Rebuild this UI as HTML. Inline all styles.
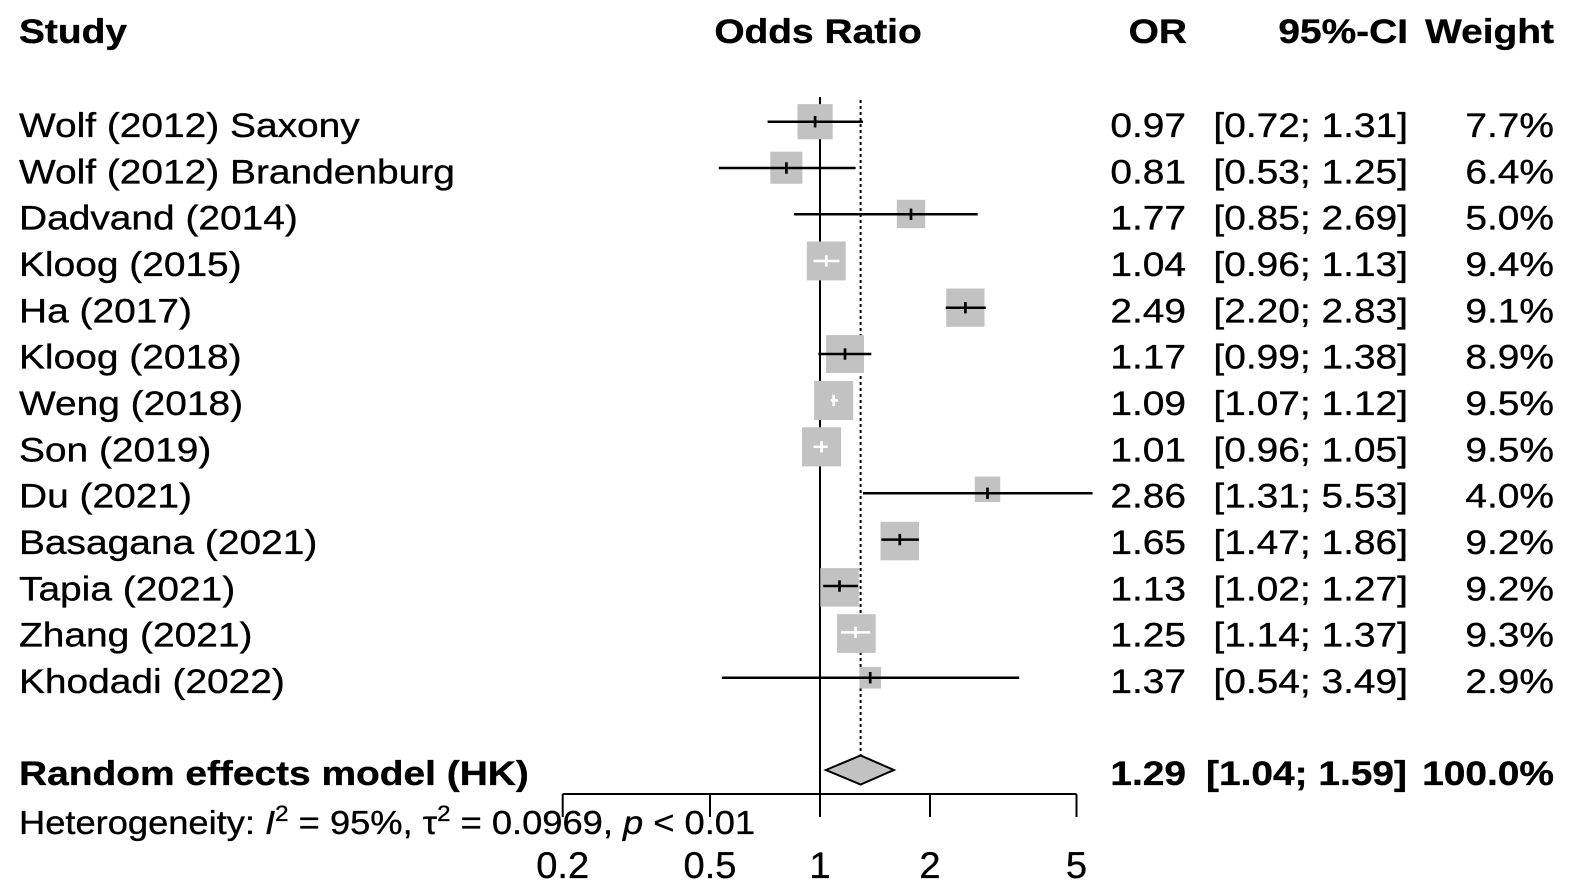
<!DOCTYPE html>
<html>
<head>
<meta charset="utf-8">
<style>
html,body{margin:0;padding:0;background:#fff;}
svg{display:block;}
text{font-family:"Liberation Sans",Arial,sans-serif;fill:#000;stroke:#000;stroke-width:0.35;}
.b{font-weight:bold;}
</style>
</head>
<body>
<svg width="1571" height="895" viewBox="0 0 1571 895" xmlns="http://www.w3.org/2000/svg">
<rect width="1571" height="895" fill="#fff"/>

<!-- Header -->
<g font-size="34" class="b">
<text class="b" transform="translate(19,43) scale(1.144,1)">Study</text>
<text class="b" transform="translate(818,43) scale(1.144,1)" text-anchor="middle">Odds Ratio</text>
<text class="b" transform="translate(1187,43) scale(1.144,1)" text-anchor="end">OR</text>
<text class="b" transform="translate(1408,43) scale(1.144,1)" text-anchor="end">95%-CI</text>
<text class="b" transform="translate(1554,43) scale(1.144,1)" text-anchor="end">Weight</text>
</g>

<!-- reference lines -->
<line x1="820" y1="97" x2="820" y2="794" stroke="#000" stroke-width="2"/>
<line x1="860.6" y1="100" x2="860.6" y2="756" stroke="#000" stroke-width="2" stroke-dasharray="3,3"/>

<!-- squares -->
<g fill="#c2c2c2">
<rect x="797.5" y="104.1" width="35.2" height="35.2"/>
<rect x="770.3" y="151.7" width="32.1" height="32.1"/>
<rect x="896.8" y="199.8" width="28.4" height="28.4"/>
<rect x="806.8" y="241.5" width="38.9" height="38.9"/>
<rect x="946.2" y="288.5" width="38.3" height="38.3"/>
<rect x="826.1" y="335.1" width="37.9" height="37.9"/>
<rect x="814.1" y="380.9" width="39.1" height="39.1"/>
<rect x="802.0" y="427.3" width="39.1" height="39.1"/>
<rect x="974.8" y="476.6" width="25.4" height="25.4"/>
<rect x="880.5" y="521.8" width="38.5" height="38.5"/>
<rect x="820.3" y="568.1" width="38.5" height="38.5"/>
<rect x="837.0" y="614.2" width="38.7" height="38.7"/>
<rect x="859.4" y="666.9" width="21.6" height="21.6"/>
</g>

<!-- CI lines and point ticks -->
<g stroke="#000" stroke-width="2.5">
<line x1="767.6" y1="121.7" x2="863" y2="121.7"/>
<line x1="815.1" y1="116" x2="815.1" y2="127.4" stroke-width="2.7"/>
<line x1="718.8" y1="168" x2="855.6" y2="168"/>
<line x1="786.4" y1="162.3" x2="786.4" y2="173.7" stroke-width="2.7"/>
<line x1="794.1" y1="214.3" x2="977.7" y2="214.3"/>
<line x1="911" y1="208.6" x2="911" y2="220" stroke-width="2.7"/>
<line x1="945.7" y1="307.7" x2="985.8" y2="307.7"/>
<line x1="965.4" y1="302" x2="965.4" y2="313.4" stroke-width="2.7"/>
<line x1="818.4" y1="354" x2="871.3" y2="354"/>
<line x1="845" y1="348.3" x2="845" y2="359.7" stroke-width="2.7"/>
<line x1="863" y1="493.3" x2="1092.6" y2="493.3"/>
<line x1="987.5" y1="487.6" x2="987.5" y2="499" stroke-width="2.7"/>
<line x1="881.4" y1="539.6" x2="918.9" y2="539.6"/>
<line x1="899.8" y1="533.9" x2="899.8" y2="545.3" stroke-width="2.7"/>
<line x1="823.2" y1="586" x2="858.1" y2="586"/>
<line x1="839.5" y1="580.3" x2="839.5" y2="591.7" stroke-width="2.7"/>
<line x1="721.8" y1="677.7" x2="1019.2" y2="677.7"/>
<line x1="870.2" y1="672" x2="870.2" y2="683.4" stroke-width="2.7"/>
</g>
<g stroke="#fff" stroke-width="2.5">
<line x1="813.5" y1="261" x2="839.5" y2="261"/>
<line x1="826.3" y1="255.3" x2="826.3" y2="266.7" stroke-width="2.7"/>
<line x1="830.8" y1="400.4" x2="838.1" y2="400.4"/>
<line x1="833.7" y1="394.7" x2="833.7" y2="406.1" stroke-width="2.7"/>
<line x1="813.5" y1="446.8" x2="827.8" y2="446.8"/>
<line x1="821.6" y1="441.1" x2="821.6" y2="452.5" stroke-width="2.7"/>
<line x1="840.9" y1="632.4" x2="870.2" y2="632.4"/>
<line x1="855.6" y1="626.7" x2="855.6" y2="638.1" stroke-width="2.7"/>
</g>

<!-- diamond -->
<polygon points="825.9,770 860.6,755.5 893.9,770 860.6,784.5" fill="#c2c2c2" stroke="#000" stroke-width="2"/>

<!-- x axis -->
<g stroke="#000" stroke-width="2">
<line x1="562.7" y1="794" x2="1076.5" y2="794"/>
<line x1="562.7" y1="794" x2="562.7" y2="817"/>
<line x1="710" y1="794" x2="710" y2="817"/>
<line x1="820" y1="794" x2="820" y2="817"/>
<line x1="930" y1="794" x2="930" y2="817"/>
<line x1="1076.5" y1="794" x2="1076.5" y2="817"/>
</g>
<g font-size="37" text-anchor="middle">
<text transform="translate(562.7,878) scale(1.03,1)">0.2</text>
<text transform="translate(710,878) scale(1.03,1)">0.5</text>
<text transform="translate(820,878) scale(1.03,1)">1</text>
<text transform="translate(930,878) scale(1.03,1)">2</text>
<text transform="translate(1076.5,878) scale(1.03,1)">5</text>
</g>

<!-- Study labels -->
<g font-size="34">
<text transform="translate(19,137) scale(1.144,1)">Wolf (2012) Saxony</text>
<text transform="translate(19,183.3) scale(1.144,1)">Wolf (2012) Brandenburg</text>
<text transform="translate(19,229.6) scale(1.144,1)">Dadvand (2014)</text>
<text transform="translate(19,276) scale(1.144,1)">Kloog (2015)</text>
<text transform="translate(19,322.3) scale(1.144,1)">Ha (2017)</text>
<text transform="translate(19,368.6) scale(1.144,1)">Kloog (2018)</text>
<text transform="translate(19,415) scale(1.144,1)">Weng (2018)</text>
<text transform="translate(19,461.3) scale(1.144,1)">Son (2019)</text>
<text transform="translate(19,507.6) scale(1.144,1)">Du (2021)</text>
<text transform="translate(19,554) scale(1.144,1)">Basagana (2021)</text>
<text transform="translate(19,600.3) scale(1.144,1)">Tapia (2021)</text>
<text transform="translate(19,646.6) scale(1.144,1)">Zhang (2021)</text>
<text transform="translate(19,693) scale(1.144,1)">Khodadi (2022)</text>
</g>

<!-- OR column -->
<g font-size="34" text-anchor="end">
<text transform="translate(1186,137) scale(1.144,1)">0.97</text>
<text transform="translate(1186,183.3) scale(1.144,1)">0.81</text>
<text transform="translate(1186,229.6) scale(1.144,1)">1.77</text>
<text transform="translate(1186,276) scale(1.144,1)">1.04</text>
<text transform="translate(1186,322.3) scale(1.144,1)">2.49</text>
<text transform="translate(1186,368.6) scale(1.144,1)">1.17</text>
<text transform="translate(1186,415) scale(1.144,1)">1.09</text>
<text transform="translate(1186,461.3) scale(1.144,1)">1.01</text>
<text transform="translate(1186,507.6) scale(1.144,1)">2.86</text>
<text transform="translate(1186,554) scale(1.144,1)">1.65</text>
<text transform="translate(1186,600.3) scale(1.144,1)">1.13</text>
<text transform="translate(1186,646.6) scale(1.144,1)">1.25</text>
<text transform="translate(1186,693) scale(1.144,1)">1.37</text>
</g>

<!-- CI column -->
<g font-size="34" text-anchor="end">
<text transform="translate(1408,137) scale(1.144,1)">[0.72; 1.31]</text>
<text transform="translate(1408,183.3) scale(1.144,1)">[0.53; 1.25]</text>
<text transform="translate(1408,229.6) scale(1.144,1)">[0.85; 2.69]</text>
<text transform="translate(1408,276) scale(1.144,1)">[0.96; 1.13]</text>
<text transform="translate(1408,322.3) scale(1.144,1)">[2.20; 2.83]</text>
<text transform="translate(1408,368.6) scale(1.144,1)">[0.99; 1.38]</text>
<text transform="translate(1408,415) scale(1.144,1)">[1.07; 1.12]</text>
<text transform="translate(1408,461.3) scale(1.144,1)">[0.96; 1.05]</text>
<text transform="translate(1408,507.6) scale(1.144,1)">[1.31; 5.53]</text>
<text transform="translate(1408,554) scale(1.144,1)">[1.47; 1.86]</text>
<text transform="translate(1408,600.3) scale(1.144,1)">[1.02; 1.27]</text>
<text transform="translate(1408,646.6) scale(1.144,1)">[1.14; 1.37]</text>
<text transform="translate(1408,693) scale(1.144,1)">[0.54; 3.49]</text>
</g>

<!-- Weight column -->
<g font-size="34" text-anchor="end">
<text transform="translate(1554,137) scale(1.144,1)">7.7%</text>
<text transform="translate(1554,183.3) scale(1.144,1)">6.4%</text>
<text transform="translate(1554,229.6) scale(1.144,1)">5.0%</text>
<text transform="translate(1554,276) scale(1.144,1)">9.4%</text>
<text transform="translate(1554,322.3) scale(1.144,1)">9.1%</text>
<text transform="translate(1554,368.6) scale(1.144,1)">8.9%</text>
<text transform="translate(1554,415) scale(1.144,1)">9.5%</text>
<text transform="translate(1554,461.3) scale(1.144,1)">9.5%</text>
<text transform="translate(1554,507.6) scale(1.144,1)">4.0%</text>
<text transform="translate(1554,554) scale(1.144,1)">9.2%</text>
<text transform="translate(1554,600.3) scale(1.144,1)">9.2%</text>
<text transform="translate(1554,646.6) scale(1.144,1)">9.3%</text>
<text transform="translate(1554,693) scale(1.144,1)">2.9%</text>
</g>

<!-- Random effects row -->
<g font-size="34">
<text class="b" transform="translate(19,785) scale(1.144,1)">Random effects model (HK)</text>
<text class="b" text-anchor="end" transform="translate(1186,785) scale(1.144,1)">1.29</text>
<text class="b" text-anchor="end" transform="translate(1407,785) scale(1.144,1)">[1.04; 1.59]</text>
<text class="b" text-anchor="end" transform="translate(1554,785) scale(1.144,1)">100.0%</text>
</g>

<!-- Heterogeneity -->
<text font-size="33" transform="translate(19,834) scale(1.1,1)">Heterogeneity: <tspan font-style="italic">I</tspan><tspan font-size="22" dy="-13">2</tspan><tspan dy="13"> = 95%, τ</tspan><tspan font-size="22" dy="-13">2</tspan><tspan dy="13"> = 0.0969, </tspan><tspan font-style="italic">p</tspan> &lt; 0.01</text>

</svg>
</body>
</html>
